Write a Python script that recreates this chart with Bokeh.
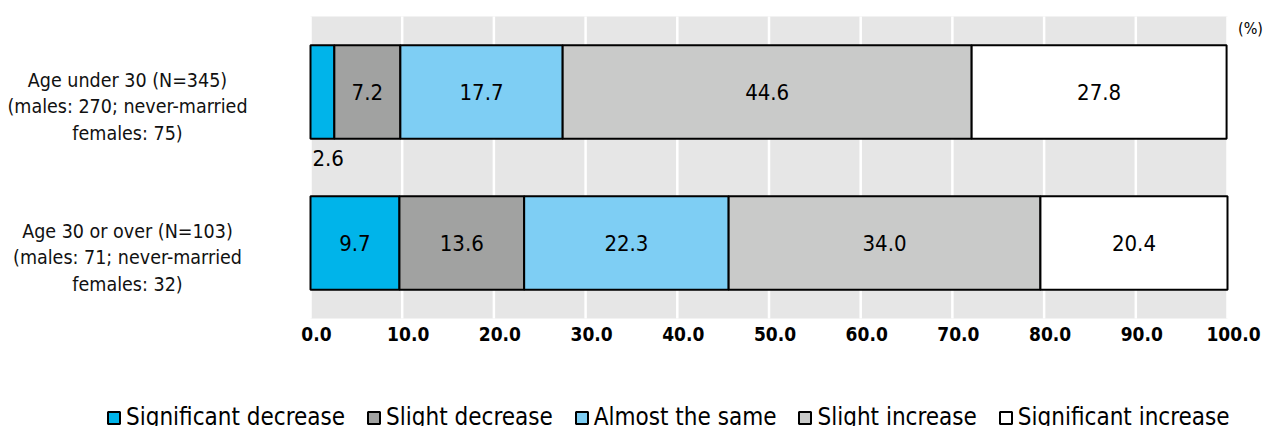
from bokeh.plotting import figure
from bokeh.models import ColumnDataSource, Range1d, Legend, LegendItem
from bokeh.core.properties import value
from bokeh.embed import file_html
from bokeh.resources import INLINE

# ---- data -----------------------------------------------------------------
groups = [
    "Age under 30 (N=345)\n(males: 270; never-married\nfemales: 75)",
    "Age 30 or over (N=103)\n(males: 71; never-married\nfemales: 32)",
]
series_names = ["Significant decrease", "Slight decrease", "Almost the same",
                "Slight increase", "Significant increase"]
significant_decrease = [2.6, 9.7]
slight_decrease = [7.2, 13.6]
almost_the_same = [17.7, 22.3]
slight_increase = [44.6, 34.0]
significant_increase = [27.8, 20.4]
x_ticks = [0, 10, 20, 30, 40, 50, 60, 70, 80, 90, 100]
x_tick_labels = ["0.0", "10.0", "20.0", "30.0", "40.0", "50.0",
                 "60.0", "70.0", "80.0", "90.0", "100.0"]
unit_label = "(%)"

colors = ["#00b4ea", "#a1a2a1", "#7ecef4", "#c9cac9", "#ffffff"]
FONT = "DejaVu Sans Condensed"

# ---- page geometry (pixels) -------------------------------------------------
W, H = 1266, 426
PLOT_L, PLOT_R = 310, 1227      # where 0 % and 100 % sit
PLOT_T, PLOT_B = 16, 318        # top / bottom of the shaded panel
n_rows = len(groups)

px_per_x = (PLOT_R - PLOT_L) / 100.0
px_per_row = (PLOT_B - PLOT_T) / n_rows
x_start = -PLOT_L / px_per_x
x_end = 100 + (W - PLOT_R) / px_per_x
row_top = -0.5 - PLOT_T / px_per_row
row_bottom = n_rows - 0.5 + (H - PLOT_B) / px_per_row

series_values = [significant_decrease, slight_decrease, almost_the_same,
                 slight_increase, significant_increase]
keys = ["s0", "s1", "s2", "s3", "s4"]
rows = list(range(n_rows))  # row 0 drawn at the top

src = ColumnDataSource(dict(row=rows, **{k: v for k, v in zip(keys, series_values)}))

p = figure(width=W, height=H,
           x_range=Range1d(x_start, x_end),
           y_range=Range1d(row_bottom, row_top),
           output_backend="svg", toolbar_location=None,
           min_border=0, x_axis_type=None, y_axis_type=None)
p.background_fill_color = "white"
p.border_fill_color = "white"
p.outline_line_color = None
p.grid.visible = False

# shaded panel and white vertical gridlines
p.quad(left=x_ticks[0], right=x_ticks[-1], top=-0.5, bottom=n_rows - 0.5,
       fill_color="#e6e6e6", line_color=None)
p.segment(x0=x_ticks, x1=x_ticks, y0=[-0.5] * len(x_ticks),
          y1=[n_rows - 0.5] * len(x_ticks), line_color="white", line_width=2.5)

# stacked horizontal bars
renderers = p.hbar_stack(keys, y="row", height=0.62, color=colors,
                         line_color="black", line_width=2, source=src)

# value labels, centred in each segment (narrow first segment goes below the bar)
lab = dict(x=[], y=[], text=[])
small = dict(x=[], y=[], text=[])
for gi in rows:
    left = 0.0
    for vals in series_values:
        v = vals[gi]
        if v < 5:
            small["x"].append(left)
            small["y"].append(gi)
            small["text"].append(f"{v:.1f}")
        else:
            lab["x"].append(left + v / 2)
            lab["y"].append(gi)
            lab["text"].append(f"{v:.1f}")
        left += v

p.text(x="x", y="y", text="text", source=ColumnDataSource(lab),
       text_font=value(FONT), text_font_size="22px", text_color="black",
       text_align="center", text_baseline="middle")
p.text(x="x", y="y", text="text", source=ColumnDataSource(small),
       text_font=value(FONT), text_font_size="22px", text_color="black",
       text_align="left", text_baseline="middle", x_offset=2, y_offset=66)

# percentage scale under the panel
p.text(x=x_ticks, y=[n_rows - 0.5] * len(x_ticks), text=x_tick_labels,
       text_font=value(FONT), text_font_size="19px", text_font_style="bold",
       text_color="black", text_align="center", text_baseline="middle",
       x_offset=6, y_offset=15)

# group descriptions to the left
label_x = x_start + 127 / px_per_x
p.text(x=[label_x] * n_rows, y=rows, text=groups,
       text_font=value(FONT), text_font_size="19.5px", text_color="#111111",
       text_align="center", text_baseline="middle", text_line_height=1.15,
       y_offset=15)

# unit note at the top right
p.text(x=[x_end - 16 / px_per_x], y=[-0.5], text=[unit_label],
       text_font=value(FONT), text_font_size="16px", text_color="black",
       text_align="center", text_baseline="middle", y_offset=12)

legend = Legend(items=[LegendItem(label=n, renderers=[r])
                       for n, r in zip(series_names, renderers)],
                orientation="horizontal", location=(106, -5),
                padding=0, margin=0, spacing=21, label_standoff=5,
                glyph_width=15, glyph_height=15,
                border_line_color=None, background_fill_alpha=0,
                label_text_font=FONT, label_text_font_size="24px",
                label_text_color="black")
p.add_layout(legend, "center")

open("out.html", "w").write(file_html(p, INLINE))
